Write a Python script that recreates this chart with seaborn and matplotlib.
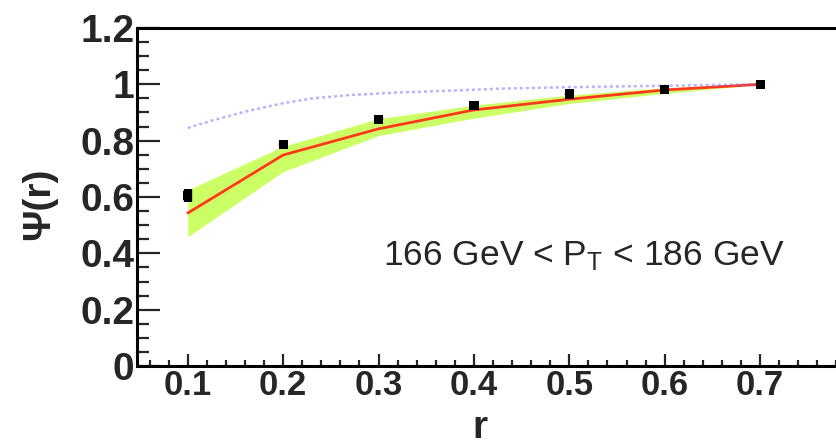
import matplotlib
matplotlib.use("Agg")
import matplotlib.pyplot as plt
import seaborn as sns
from matplotlib.ticker import MultipleLocator, FixedLocator, FuncFormatter

# ---- data ----
r_points = [0.1, 0.2, 0.3, 0.4, 0.5, 0.6, 0.7]
psi_data = [0.605, 0.786, 0.876, 0.926, 0.966, 0.982, 1.0]
psi_err = [0.024, 0.006, 0.004, 0.003, 0.003, 0.002, 0.002]
psi_fit = [0.543, 0.749, 0.842, 0.909, 0.947, 0.980, 1.0]
band_low = [0.459, 0.690, 0.818, 0.880, 0.932, 0.968, 1.0]
band_high = [0.625, 0.780, 0.878, 0.926, 0.962, 0.988, 1.0]
r_blue = [0.1, 0.125, 0.16, 0.2, 0.23, 0.27, 0.32, 0.37, 0.43, 0.5, 0.6, 0.7]
psi_blue = [0.845, 0.871, 0.903, 0.933, 0.950, 0.962, 0.971, 0.977, 0.985, 0.990, 0.995, 1.0]

x_ticks = [0.1, 0.2, 0.3, 0.4, 0.5, 0.6, 0.7]
y_ticks = [0, 0.2, 0.4, 0.6, 0.8, 1.0, 1.2]
x_label = "r"
y_label = "Ψ(r)"
note = r"166 GeV < P$_\mathrm{T}$ < 186 GeV"

# ---- style ----
sns.set_style("ticks")
plt.rcParams["font.family"] = ["Liberation Sans", "DejaVu Sans"]
plt.rcParams["mathtext.fontset"] = "custom"
plt.rcParams["mathtext.rm"] = "Liberation Sans"
plt.rcParams["mathtext.it"] = "Liberation Sans:italic"

W, H = 836, 445
fig = plt.figure(figsize=(W / 100, H / 100), dpi=100)
ax = fig.add_axes([137 / W, 1 - 366 / H, 718.5 / W, 338 / H])

ax.fill_between(r_points, band_low, band_high, color="#ccff66", lw=0, zorder=1)
sns.lineplot(x=r_points, y=psi_fit, ax=ax, color="#ff3a1a", lw=2.0, zorder=2)
sns.lineplot(x=r_blue, y=psi_blue, ax=ax, color="#6a6aff", lw=1.8,
             linestyle=(0, (1.2, 1.2)), alpha=0.5, zorder=3)
ax.errorbar(r_points, psi_data, yerr=psi_err, fmt="none", ecolor="black",
            elinewidth=6.0, capsize=0, zorder=4)
sns.scatterplot(x=r_points, y=psi_data, ax=ax, marker="s", s=44,
                color="black", edgecolor="none", zorder=5)

ax.set_xlim(0.0468, 0.8)
ax.set_ylim(0, 1.2)
ax.xaxis.set_major_locator(FixedLocator(x_ticks))
ax.yaxis.set_major_locator(FixedLocator(y_ticks))
ax.xaxis.set_minor_locator(MultipleLocator(0.02))
ax.yaxis.set_minor_locator(MultipleLocator(0.05))
fmt = FuncFormatter(lambda v, p: "%g" % round(v, 3))
ax.xaxis.set_major_formatter(fmt)
ax.yaxis.set_major_formatter(fmt)

ax.tick_params(axis="y", which="major", direction="in", length=16.5, width=1.6,
               labelsize=28, pad=2, left=True, right=False)
ax.tick_params(axis="y", which="minor", direction="in", length=8.6, width=1.6,
               left=True, right=False)
ax.tick_params(axis="x", which="major", direction="in", length=8.6, width=1.6,
               labelsize=25, pad=2, bottom=True, top=False)
ax.tick_params(axis="x", which="minor", direction="in", length=4.3, width=1.6,
               bottom=True, top=False)
for lab in ax.get_xticklabels() + ax.get_yticklabels():
    lab.set_fontweight("bold")

for sp in ax.spines.values():
    sp.set_linewidth(2.2)
    sp.set_color("black")

ax.set_xlabel(x_label, fontsize=28, fontweight="bold")
ax.xaxis.set_label_coords((480 - 137) / 718.5, (366 - 438) / 338)
ax.xaxis.label.set_va("baseline")
ax.set_ylabel(y_label, fontsize=28, fontweight="bold")
ax.yaxis.set_label_coords((57 - 137) / 718.5, (366 - 204) / 338)

fig.text(383 / W, 1 - 265 / H, note, fontsize=25.5,
         ha="left", va="baseline")

fig.savefig("out.png", dpi=100)
